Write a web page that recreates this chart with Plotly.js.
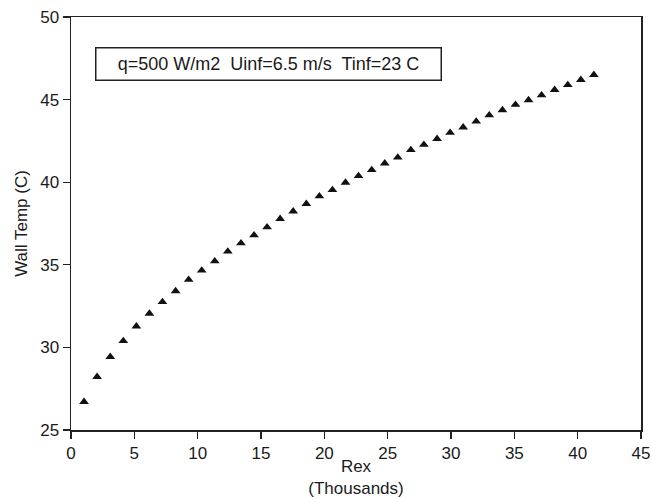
<!DOCTYPE html>
<html>
<head>
<meta charset="utf-8">
<script src="https://cdn.plot.ly/plotly-3.0.1.min.js"></script>
<style>
  html, body { margin: 0; padding: 0; background: #ffffff; }
  #chart { width: 651px; height: 498px; }
</style>
</head>
<body>
<div id="chart"></div>
<script>
// Reynolds number (thousands)
const rex = [1.03, 2.06, 3.10, 4.13, 5.16, 6.19, 7.22, 8.26, 9.29, 10.32,
             11.35, 12.38, 13.42, 14.45, 15.48, 16.51, 17.54, 18.58, 19.61, 20.64,
             21.67, 22.70, 23.74, 24.77, 25.80, 26.83, 27.86, 28.90, 29.93, 30.96,
             31.99, 33.02, 34.06, 35.09, 36.12, 37.15, 38.18, 39.22, 40.25, 41.28];
// Wall temperature (C)
const wallTemp = [26.71, 28.22, 29.43, 30.39, 31.28, 32.05, 32.75, 33.41, 34.10, 34.66,
                  35.22, 35.81, 36.31, 36.79, 37.28, 37.78, 38.24, 38.69, 39.15, 39.53,
                  39.98, 40.38, 40.74, 41.14, 41.50, 41.95, 42.27, 42.63, 43.00, 43.32,
                  43.68, 44.06, 44.37, 44.69, 44.97, 45.27, 45.59, 45.89, 46.20, 46.50];
const xTicks = [0, 5, 10, 15, 20, 25, 30, 35, 40, 45];
const yTicks = [25, 30, 35, 40, 45, 50];
const noteText = "q=500 W/m2  Uinf=6.5 m/s  Tinf=23 C";

const fontFam = "Liberation Sans, Arial, Helvetica, sans-serif";
const ink = "#1a1a1a";

const trace = {
  x: rex,
  y: wallTemp,
  type: "scatter",
  mode: "markers",
  marker: { symbol: "triangle-up", size: 8.5, color: "#111111" },
  showlegend: false,
  hoverinfo: "x+y"
};

const axisCommon = {
  showgrid: false,
  zeroline: false,
  showline: true,
  mirror: true,
  linecolor: "#222222",
  linewidth: 1.5,
  ticks: "outside",
  ticklen: 7,
  tickwidth: 1.2,
  tickcolor: "#222222",
  tickfont: { family: fontFam, size: 17, color: ink },
  fixedrange: true
};

const layout = {
  width: 651,
  height: 498,
  margin: { l: 71, r: 10, t: 17, b: 68 },
  paper_bgcolor: "#ffffff",
  plot_bgcolor: "#ffffff",
  font: { family: fontFam, color: ink },
  xaxis: Object.assign({}, axisCommon, {
    range: [0, 45],
    tickmode: "array",
    tickvals: xTicks,
    ticktext: xTicks.map(String),
    title: { text: "Rex<br>(Thousands)", font: { family: fontFam, size: 17, color: ink }, standoff: 2 }
  }),
  yaxis: Object.assign({}, axisCommon, {
    range: [25, 50],
    tickmode: "array",
    tickvals: yTicks,
    ticktext: yTicks.map(String),
    title: { text: "Wall Temp (C)", font: { family: fontFam, size: 17, color: ink }, standoff: 8 }
  }),
  annotations: [{
    xref: "paper", yref: "paper",
    x: 0.346, y: 0.886,
    xanchor: "center", yanchor: "middle",
    text: noteText,
    showarrow: false,
    font: { family: fontFam, size: 18, color: ink },
    bordercolor: "#222222",
    borderwidth: 1.5,
    borderpad: 0,
    width: 344,
    height: 31,
    align: "center",
    bgcolor: "#ffffff"
  }]
};

Plotly.newPlot("chart", [trace], layout, { displayModeBar: false, staticPlot: true });
</script>
</body>
</html>
